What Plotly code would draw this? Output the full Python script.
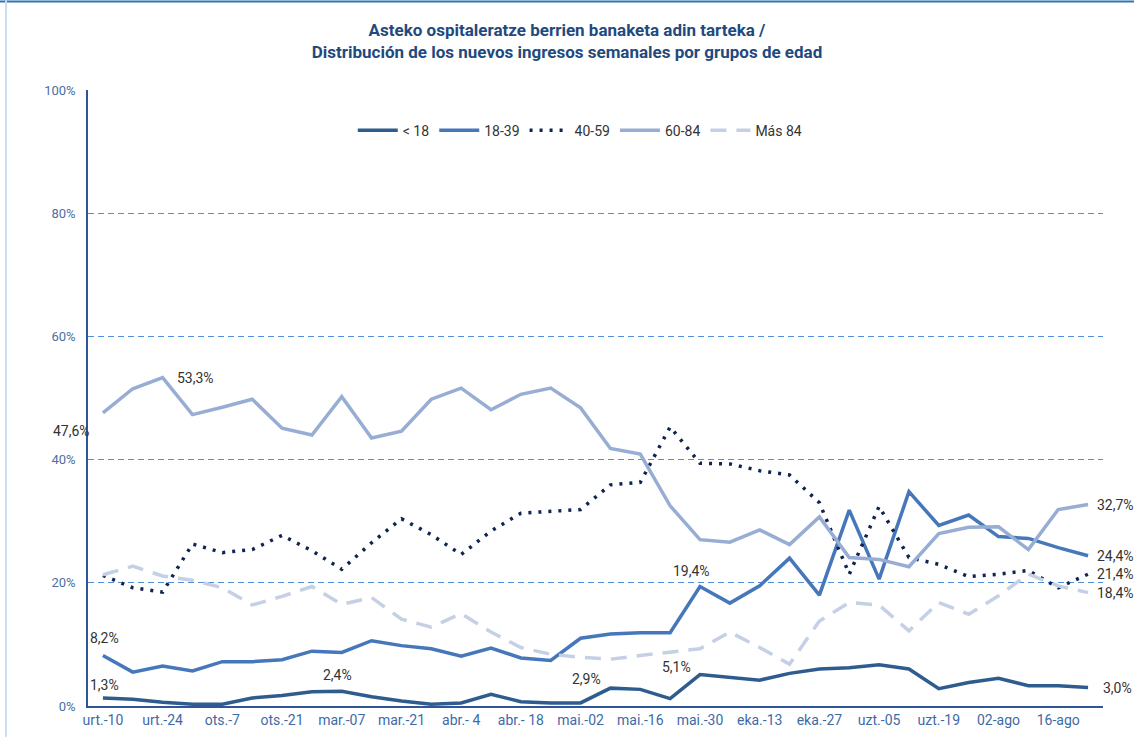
import plotly.graph_objects as go

weeks = ["urt.-10", "urt.-17", "urt.-24", "urt.-31", "ots.-7", "ots.-14", "ots.-21", "ots.-28",
         "mar.-07", "mar.-14", "mar.-21", "mar.-28", "abr.- 4", "abr.- 11", "abr.- 18", "abr.- 25",
         "mai.-02", "mai.-09", "mai.-16", "mai.-23", "mai.-30", "eka.-06", "eka.-13", "eka.-20",
         "eka.-27", "uzt.-28", "uzt.-05", "uzt.-12", "uzt.-19", "uzt.-26", "02-ago", "09-ago",
         "16-ago", "23-ago"]
tick_labels = weeks[0::2]
y_ticks = [0, 20, 40, 60, 80, 100]
y_tick_text = [f"{v}%" for v in y_ticks]

under_18 = [1.3, 1.1, 0.6, 0.3, 0.3, 1.3, 1.7, 2.3, 2.4, 1.5, 0.8, 0.3, 0.5, 1.9, 0.7, 0.5,
            0.5, 2.9, 2.7, 1.2, 5.1, 4.6, 4.2, 5.3, 6.0, 6.2, 6.7, 6.0, 2.8, 3.8, 4.5, 3.3,
            3.3, 3.0]
age_18_39 = [8.2, 5.5, 6.5, 5.7, 7.2, 7.2, 7.5, 8.9, 8.7, 10.6, 9.8, 9.3, 8.1, 9.4, 7.8, 7.4,
             11.0, 11.7, 11.9, 11.9, 19.4, 16.7, 19.5, 24.0, 18.0, 31.8, 20.6, 34.8, 29.3, 31.0,
             27.5, 27.2, 25.7, 24.4]
age_40_59 = [21.2, 19.2, 18.5, 26.3, 24.9, 25.4, 27.7, 25.2, 22.2, 26.5, 30.4, 27.8, 24.6, 28.4,
             31.3, 31.6, 31.9, 35.9, 36.3, 45.3, 39.4, 39.3, 38.2, 37.5, 33.0, 21.4, 32.4, 24.1,
             23.0, 21.0, 21.4, 22.0, 19.2, 21.4]
age_60_84 = [47.6, 51.5, 53.3, 47.3, 48.5, 49.8, 45.1, 44.0, 50.2, 43.5, 44.6, 49.8, 51.6, 48.1,
             50.6, 51.6, 48.4, 41.8, 40.9, 32.5, 27.0, 26.6, 28.6, 26.2, 30.7, 24.1, 23.8, 22.6,
             28.0, 29.0, 29.1, 25.4, 31.9, 32.7]
over_84 = [21.3, 22.7, 21.1, 20.4, 19.2, 16.4, 17.8, 19.4, 16.5, 17.6, 14.1, 12.8, 15.0, 12.0,
           9.5, 8.4, 7.9, 7.6, 8.2, 8.7, 9.3, 12.0, 9.5, 6.8, 13.8, 16.8, 16.4, 12.2, 16.8, 14.9,
           17.9, 21.4, 19.5, 18.4]

series = [
    ("< 18", under_18, "#2F5C8F", "solid", 3.5),
    ("18-39", age_18_39, "#4677BA", "solid", 3.5),
    ("40-59", age_40_59, "#0E2452", "3px,7px", 3.5),
    ("60-84", age_60_84, "#97ADD4", "solid", 3.5),
    ("Más 84", over_84, "#C5D0E6", "16px,10px", 3.5),
]

FONT = "Roboto, Arial, sans-serif"

fig = go.Figure()
for name, vals, color, dash, w in series:
    fig.add_trace(go.Scatter(x=weeks, y=vals, name=name, mode="lines",
                             line=dict(color=color, dash=dash, width=w)))

def fmt(v):
    return f"{v:.1f}".replace(".", ",") + "%"

# data labels: (series values, index, xshift, yshift, xanchor)
labels = [
    (age_60_84, 0, -31, -18, "center"),
    (age_60_84, 2, 33, 0, "center"),
    (age_18_39, 0, 2, 17, "center"),
    (under_18, 0, 2, 13, "center"),
    (under_18, 8, -4, 16, "center"),
    (under_18, 17, -24, 9, "center"),
    (under_18, 20, -23, 8, "center"),
    (age_18_39, 20, -8, 16, "center"),
    (age_60_84, 33, 7, 0, "left"),
    (age_18_39, 33, 7, 0, "left"),
    (age_40_59, 33, 7, 0, "left"),
    (over_84, 33, 7, 0, "left"),
    (under_18, 33, 13, 0, "left"),
]
for vals, i, xs, ys, xa in labels:
    fig.add_annotation(x=weeks[i], y=vals[i], text=fmt(vals[i]), showarrow=False,
                       xshift=xs, yshift=ys, xanchor=xa, yanchor="middle",
                       font=dict(family=FONT, size=14, color="#333333"))

fig.update_layout(
    width=1134, height=740,
    paper_bgcolor="white", plot_bgcolor="white",
    margin=dict(l=88, r=31, t=90, b=31),
    title=dict(text="<b>Asteko ospitaleratze berrien banaketa adin tarteka /<br>"
                    "Distribución de los nuevos ingresos semanales por grupos de edad</b>",
               x=0.5, xref="container", xanchor="center",
               y=1 - 36 / 740, yref="container", yanchor="middle",
               font=dict(family=FONT, size=17, color="#1F4A7E")),
    legend=dict(orientation="h", x=0.485, xanchor="center", y=0.934, yanchor="middle",
                font=dict(family=FONT, size=14, color="#333333"),
                bgcolor="rgba(0,0,0,0)", itemwidth=40, tracegroupgap=0),
    showlegend=True,
    xaxis=dict(type="category", tickmode="array", tickvals=tick_labels, ticktext=tick_labels,
               showgrid=False, showline=True, linecolor="#2F5597", linewidth=1.5,
               ticks="", tickfont=dict(family=FONT, size=14, color="#3F6AA6"),
               range=[-0.5, len(weeks) - 0.5]),
    yaxis=dict(range=[0, 100], tickmode="array", tickvals=y_ticks, ticktext=y_tick_text,
               showgrid=True, gridcolor="#4F8FDB", griddash="6px,4px", gridwidth=1,
               zeroline=False, showline=True, linecolor="#2F5597", linewidth=1.5,
               ticks="", ticklabelstandoff=8,
               tickfont=dict(family=FONT, size=13, color="#4A6FA5")),
)

# outer frame lines of the original chart object
fig.add_shape(type="line", xref="paper", yref="paper",
              x0=(0 - 88) / 1015, x1=(1134 - 88) / 1015, y0=(709 - 1) / 619, y1=(709 - 1) / 619,
              line=dict(color="#2E75B6", width=2))
fig.add_shape(type="line", xref="paper", yref="paper",
              x0=(6 - 88) / 1015, x1=(6 - 88) / 1015, y0=(709 - 0) / 619, y1=(709 - 740) / 619,
              line=dict(color="#C9DDF2", width=2))

fig.write_html("out.html", config={"displayModeBar": False},
               post_script="document.body.style.margin='0';")
